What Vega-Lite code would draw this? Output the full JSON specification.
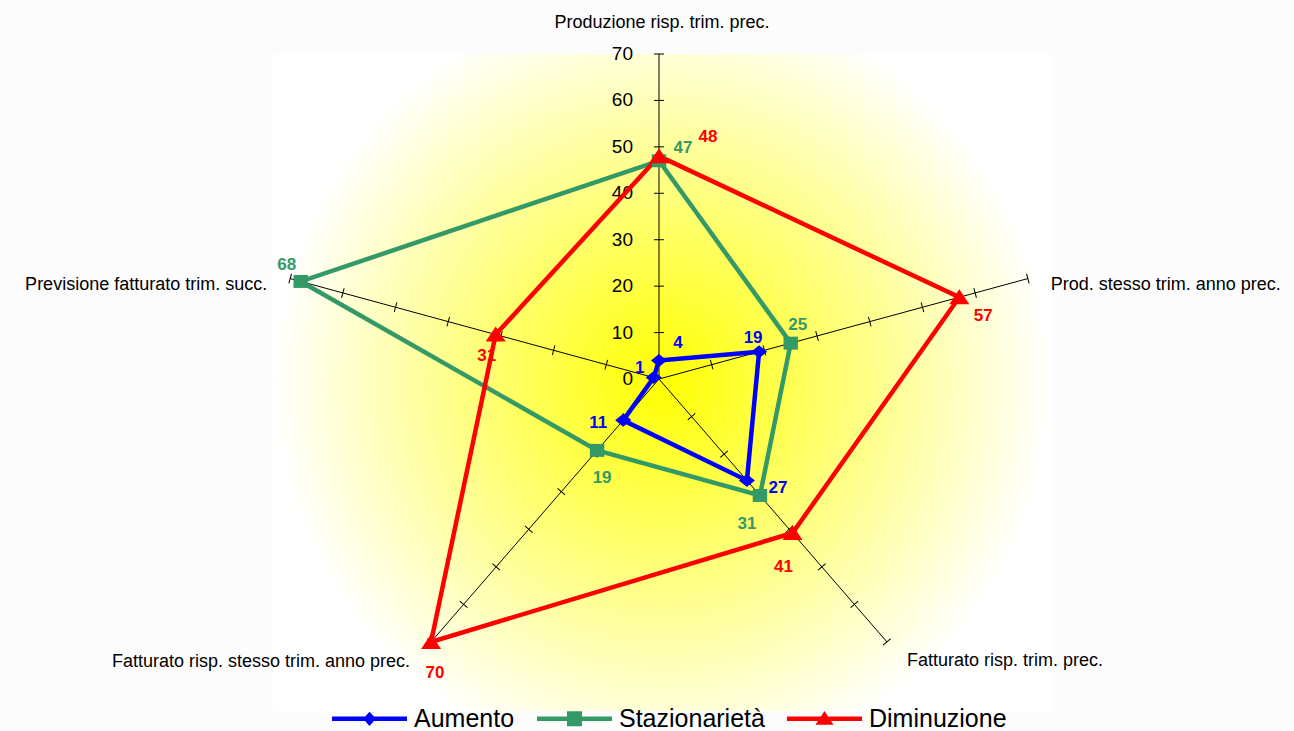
{
"$schema":"https://vega.github.io/schema/vega-lite/v6.json",
"width":1294,"height":731,"autosize":"none","padding":0,"background":"#fcfcfc",
"config":{"view":{"stroke":null},"font":"Liberation Sans"},
"datasets":{
 "series":[
  {"s":"Aumento","c":"Produzione risp. trim. prec.","i":0,"v":4},
  {"s":"Aumento","c":"Prod. stesso trim. anno prec.","i":1,"v":19},
  {"s":"Aumento","c":"Fatturato risp. trim. prec.","i":2,"v":27},
  {"s":"Aumento","c":"Fatturato risp. stesso trim. anno prec.","i":3,"v":11},
  {"s":"Aumento","c":"Previsione fatturato trim. succ.","i":4,"v":1},
  {"s":"Stazionarietà","c":"Produzione risp. trim. prec.","i":0,"v":47},
  {"s":"Stazionarietà","c":"Prod. stesso trim. anno prec.","i":1,"v":25},
  {"s":"Stazionarietà","c":"Fatturato risp. trim. prec.","i":2,"v":31},
  {"s":"Stazionarietà","c":"Fatturato risp. stesso trim. anno prec.","i":3,"v":19},
  {"s":"Stazionarietà","c":"Previsione fatturato trim. succ.","i":4,"v":68},
  {"s":"Diminuzione","c":"Produzione risp. trim. prec.","i":0,"v":48},
  {"s":"Diminuzione","c":"Prod. stesso trim. anno prec.","i":1,"v":57},
  {"s":"Diminuzione","c":"Fatturato risp. trim. prec.","i":2,"v":41},
  {"s":"Diminuzione","c":"Fatturato risp. stesso trim. anno prec.","i":3,"v":70},
  {"s":"Diminuzione","c":"Previsione fatturato trim. succ.","i":4,"v":31}
 ],
 "cats":[
  {"c":"Produzione risp. trim. prec.","i":0,"ends":[0,70],"ticks":[10,20,30,40,50,60,70]},
  {"c":"Prod. stesso trim. anno prec.","i":1,"ends":[0,70],"ticks":[10,20,30,40,50,60,70]},
  {"c":"Fatturato risp. trim. prec.","i":2,"ends":[0,70],"ticks":[10,20,30,40,50,60,70]},
  {"c":"Fatturato risp. stesso trim. anno prec.","i":3,"ends":[0,70],"ticks":[10,20,30,40,50,60,70]},
  {"c":"Previsione fatturato trim. succ.","i":4,"ends":[0,70],"ticks":[10,20,30,40,50,60,70]}
 ],
 "axisvals":[{"t":0},{"t":10},{"t":20},{"t":30},{"t":40},{"t":50},{"t":60},{"t":70}]
},
"layer":[
 {"data":{"values":[{}]},
  "mark":{"type":"rect","fill":{"gradient":"radial","x1":0.5,"y1":0.5,"r1":0,"x2":0.5,"y2":0.5,"r2":0.5,"stops":[{"offset":0,"color":"#ffff00"},{"offset":1,"color":"#ffffff"}]}},
  "encoding":{
   "x":{"datum":-69.7,"type":"quantitative","scale":{"domain":[-118.95,114.62],"nice":false,"zero":false},"axis":null},
   "x2":{"datum":70.9},
   "y":{"datum":70,"type":"quantitative","scale":{"domain":[-75.81,81.63],"nice":false,"zero":false},"axis":null},
   "y2":{"datum":-71.5}}},
 {"data":{"name":"cats"},
  "transform":[{"flatten":["ends"],"as":["r"]},{"calculate":"PI/2 - datum.i*2*PI/5","as":"a"},{"calculate":"datum.r*cos(datum.a)","as":"ex"},{"calculate":"datum.r*sin(datum.a)","as":"ey"}],
  "mark":{"type":"line","color":"#000000","strokeWidth":1},
  "encoding":{
   "x":{"field":"ex","type":"quantitative","scale":{"domain":[-118.95,114.62],"nice":false,"zero":false},"axis":null},
   "y":{"field":"ey","type":"quantitative","scale":{"domain":[-75.81,81.63],"nice":false,"zero":false},"axis":null},
   "detail":{"field":"i","type":"nominal"},
   "order":{"field":"r","type":"quantitative"}}},
 {"data":{"name":"cats"},
  "transform":[{"flatten":["ticks"],"as":["t"]},{"calculate":"PI/2 - datum.i*2*PI/5","as":"a"},{"calculate":"datum.t*cos(datum.a)","as":"px"},{"calculate":"datum.t*sin(datum.a)","as":"py"},{"calculate":"atan2(-4.643*sin(datum.a), 5.54*cos(datum.a))*180/PI","as":"ang"}],
  "mark":{"type":"point","shape":"M0,-1L0,1","filled":false,"color":"#000000","strokeWidth":1,"size":100,"opacity":1},
  "encoding":{
   "x":{"field":"px","type":"quantitative","scale":{"domain":[-118.95,114.62],"nice":false,"zero":false},"axis":null},
   "y":{"field":"py","type":"quantitative","scale":{"domain":[-75.81,81.63],"nice":false,"zero":false},"axis":null},
   "angle":{"field":"ang","type":"quantitative","scale":null}}},
 {"data":{"name":"axisvals"},
  "mark":{"type":"text","align":"right","baseline":"middle","dx":-26,"fontSize":19,"color":"#000000"},
  "encoding":{
   "x":{"datum":0,"type":"quantitative","scale":{"domain":[-118.95,114.62],"nice":false,"zero":false},"axis":null},
   "y":{"field":"t","type":"quantitative","scale":{"domain":[-75.81,81.63],"nice":false,"zero":false},"axis":null},
   "text":{"field":"t","type":"quantitative"}}},
 {"data":{"name":"cats"},
  "transform":[{"calculate":"PI/2 - datum.i*2*PI/5","as":"a"},{"calculate":"70*cos(datum.a)","as":"ex"},{"calculate":"70*sin(datum.a)","as":"ey"}],
  "encoding":{
   "x":{"field":"ex","type":"quantitative","scale":{"domain":[-118.95,114.62],"nice":false,"zero":false},"axis":null},
   "y":{"field":"ey","type":"quantitative","scale":{"domain":[-75.81,81.63],"nice":false,"zero":false},"axis":null},
   "text":{"field":"c","type":"nominal"}},
  "layer":[
   {"transform":[{"filter":"datum.i==0"}],"mark":{"type":"text","align":"center","baseline":"alphabetic","dx":3,"dy":-26,"fontSize":18,"color":"#000000"}},
   {"transform":[{"filter":"datum.i==1"}],"mark":{"type":"text","align":"center","baseline":"alphabetic","dx":138,"dy":11,"fontSize":18,"color":"#000000"}},
   {"transform":[{"filter":"datum.i==2"}],"mark":{"type":"text","align":"center","baseline":"alphabetic","dx":118,"dy":24,"fontSize":18,"color":"#000000"}},
   {"transform":[{"filter":"datum.i==3"}],"mark":{"type":"text","align":"center","baseline":"alphabetic","dx":-170,"dy":25,"fontSize":18,"color":"#000000"}},
   {"transform":[{"filter":"datum.i==4"}],"mark":{"type":"text","align":"center","baseline":"alphabetic","dx":-144,"dy":11,"fontSize":18,"color":"#000000"}}
  ]},
 {"data":{"name":"series"},
  "transform":[{"calculate":"PI/2 - datum.i*2*PI/5","as":"a"},{"calculate":"datum.v*cos(datum.a)","as":"px"},{"calculate":"datum.v*sin(datum.a)","as":"py"}],
  "encoding":{
   "x":{"field":"px","type":"quantitative","scale":{"domain":[-118.95,114.62],"nice":false,"zero":false},"axis":null},
   "y":{"field":"py","type":"quantitative","scale":{"domain":[-75.81,81.63],"nice":false,"zero":false},"axis":null},
   "color":{"field":"s","type":"nominal","scale":{"domain":["Aumento","Stazionarietà","Diminuzione"],"range":["#0000ff","#339966","#ff0000"]},
    "legend":{"orient":"none","legendX":332,"legendY":681,"direction":"horizontal","title":null,"symbolSize":5625,"labelFontSize":25,"labelColor":"#000000","labelOffset":7,"columnPadding":22,"labelLimit":400,"padding":0,"symbolOpacity":1,"symbolStrokeWidth":0}}},
  "layer":[
   {"mark":{"type":"point","filled":true,"opacity":0,"size":1},
    "encoding":{"shape":{"field":"s","type":"nominal","legend":null,"scale":{"domain":["Aumento","Stazionarietà","Diminuzione"],"range":["M-1,-0.06L1,-0.06L1,0.06L-1,0.06Z M-0.17,0L0,-0.19L0.17,0L0,0.19Z","M-1,-0.06L1,-0.06L1,0.06L-1,0.06Z M-0.2,-0.2L0.2,-0.2L0.2,0.2L-0.2,0.2Z","M-1,-0.06L1,-0.06L1,0.06L-1,0.06Z M0,-0.21L0.24,0.16L-0.24,0.16Z"]}}}},
   {"mark":{"type":"line","interpolate":"linear-closed","strokeWidth":4.5},"encoding":{"order":{"field":"i","type":"quantitative"}}},
   {"transform":[{"filter":"datum.s=='Aumento'"}],"mark":{"type":"point","filled":true,"opacity":1,"size":400,"shape":"M-0.8,0L0,-0.65L0.8,0L0,0.65Z"}},
   {"transform":[{"filter":"datum.s=='Stazionarietà'"}],"mark":{"type":"point","filled":true,"opacity":1,"size":400,"shape":"M-0.72,-0.65L0.72,-0.65L0.72,0.65L-0.72,0.65Z"}},
   {"transform":[{"filter":"datum.s=='Diminuzione'"}],"mark":{"type":"point","filled":true,"opacity":1,"size":400,"shape":"M0,-0.8L1,0.7L-1,0.7Z"}},
   {"transform":[{"filter":"datum.s=='Aumento' && datum.i==0"}],"mark":{"type":"text","dx":19,"dy":-17,"fontSize":17,"fontWeight":"bold"},"encoding":{"text":{"field":"v","type":"quantitative"}}},
   {"transform":[{"filter":"datum.s=='Aumento' && datum.i==1"}],"mark":{"type":"text","dx":-6,"dy":-14,"fontSize":17,"fontWeight":"bold"},"encoding":{"text":{"field":"v","type":"quantitative"}}},
   {"transform":[{"filter":"datum.s=='Aumento' && datum.i==2"}],"mark":{"type":"text","dx":31,"dy":8,"fontSize":17,"fontWeight":"bold"},"encoding":{"text":{"field":"v","type":"quantitative"}}},
   {"transform":[{"filter":"datum.s=='Aumento' && datum.i==3"}],"mark":{"type":"text","dx":-25,"dy":3,"fontSize":17,"fontWeight":"bold"},"encoding":{"text":{"field":"v","type":"quantitative"}}},
   {"transform":[{"filter":"datum.s=='Aumento' && datum.i==4"}],"mark":{"type":"text","dx":-14,"dy":-10,"fontSize":17,"fontWeight":"bold"},"encoding":{"text":{"field":"v","type":"quantitative"}}},
   {"transform":[{"filter":"datum.s=='Stazionarietà' && datum.i==0"}],"mark":{"type":"text","dx":24,"dy":-13,"fontSize":17,"fontWeight":"bold"},"encoding":{"text":{"field":"v","type":"quantitative"}}},
   {"transform":[{"filter":"datum.s=='Stazionarietà' && datum.i==1"}],"mark":{"type":"text","dx":7,"dy":-18,"fontSize":17,"fontWeight":"bold"},"encoding":{"text":{"field":"v","type":"quantitative"}}},
   {"transform":[{"filter":"datum.s=='Stazionarietà' && datum.i==2"}],"mark":{"type":"text","dx":-13,"dy":29,"fontSize":17,"fontWeight":"bold"},"encoding":{"text":{"field":"v","type":"quantitative"}}},
   {"transform":[{"filter":"datum.s=='Stazionarietà' && datum.i==3"}],"mark":{"type":"text","dx":5,"dy":28,"fontSize":17,"fontWeight":"bold"},"encoding":{"text":{"field":"v","type":"quantitative"}}},
   {"transform":[{"filter":"datum.s=='Stazionarietà' && datum.i==4"}],"mark":{"type":"text","dx":-14,"dy":-16,"fontSize":17,"fontWeight":"bold"},"encoding":{"text":{"field":"v","type":"quantitative"}}},
   {"transform":[{"filter":"datum.s=='Diminuzione' && datum.i==0"}],"mark":{"type":"text","dx":49,"dy":-19,"fontSize":17,"fontWeight":"bold"},"encoding":{"text":{"field":"v","type":"quantitative"}}},
   {"transform":[{"filter":"datum.s=='Diminuzione' && datum.i==1"}],"mark":{"type":"text","dx":24,"dy":19,"fontSize":17,"fontWeight":"bold"},"encoding":{"text":{"field":"v","type":"quantitative"}}},
   {"transform":[{"filter":"datum.s=='Diminuzione' && datum.i==2"}],"mark":{"type":"text","dx":-9,"dy":34,"fontSize":17,"fontWeight":"bold"},"encoding":{"text":{"field":"v","type":"quantitative"}}},
   {"transform":[{"filter":"datum.s=='Diminuzione' && datum.i==3"}],"mark":{"type":"text","dx":4,"dy":31,"fontSize":17,"fontWeight":"bold"},"encoding":{"text":{"field":"v","type":"quantitative"}}},
   {"transform":[{"filter":"datum.s=='Diminuzione' && datum.i==4"}],"mark":{"type":"text","dx":-9,"dy":21,"fontSize":17,"fontWeight":"bold"},"encoding":{"text":{"field":"v","type":"quantitative"}}}
  ]}
]
}
